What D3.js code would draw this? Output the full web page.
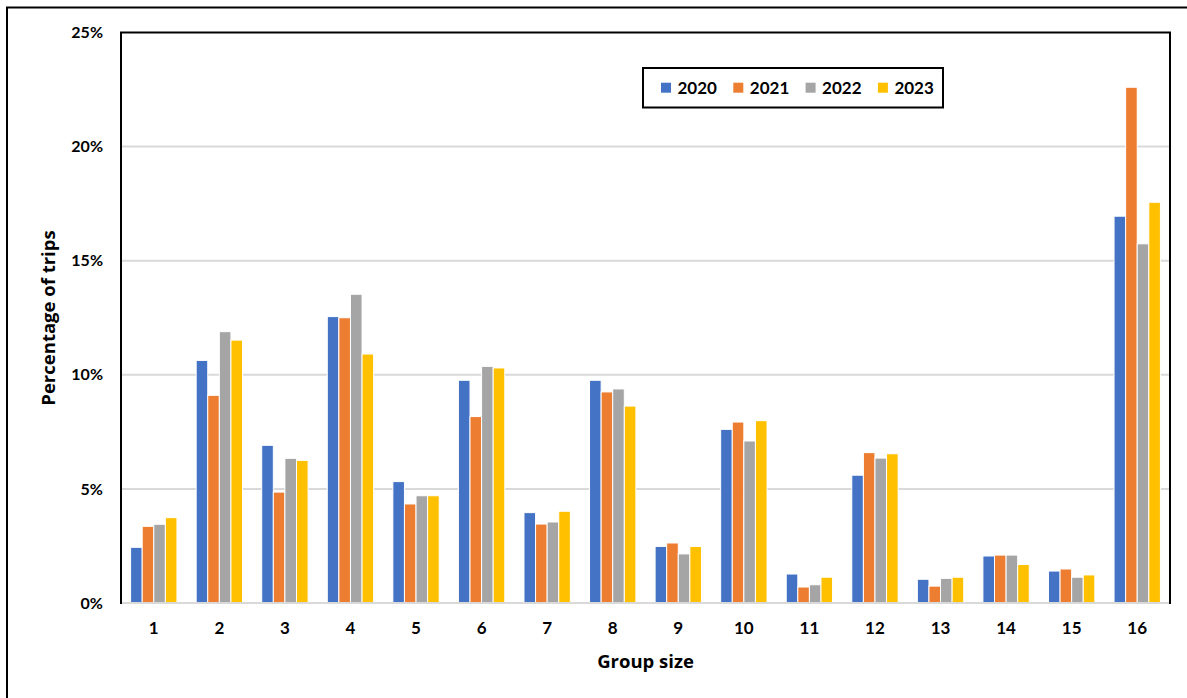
<!DOCTYPE html>
<html>
<head>
<meta charset="utf-8">
<script src="https://cdn.jsdelivr.net/npm/d3@7"></script>
<style>
  html, body { margin: 0; padding: 0; background: #fff; }
  svg { display: block; font-family: Lato, "Open Sans", sans-serif; font-weight: 700; }
</style>
</head>
<body>
<svg id="chart" width="1187" height="698"></svg>
<script>
// Group sizes on the x axis
const groupSizes = ["1","2","3","4","5","6","7","8","9","10","11","12","13","14","15","16"];
const years = ["2020","2021","2022","2023"];
const colors = ["#4472C4","#ED7D31","#A5A5A5","#FFC000"];

// Percentage of trips for each year, by group size
const pct2020 = [2.44,10.63,6.91,12.55,5.32,9.76,3.96,9.76,2.48,7.61,1.27,5.60,1.04,2.06,1.40,16.95];
const pct2021 = [3.36,9.10,4.86,12.50,4.34,8.17,3.46,9.25,2.63,7.93,0.70,6.59,0.74,2.10,1.49,22.60];
const pct2022 = [3.45,11.89,6.34,13.53,4.70,10.37,3.55,9.38,2.15,7.10,0.80,6.35,1.08,2.10,1.13,15.74];
const pct2023 = [3.74,11.52,6.25,10.91,4.70,10.30,4.02,8.63,2.48,7.99,1.13,6.54,1.13,1.69,1.23,17.56];
const seriesValues = [pct2020, pct2021, pct2022, pct2023];

const yTicks = [0,5,10,15,20,25];

const svg = d3.select("#chart");
const plot = { left: 121, right: 1170, top: 32.5, bottom: 603 };
const titleFont = "'Open Sans', Lato, sans-serif";

// outer frame
svg.append("rect")
  .attr("x", 7).attr("y", 7.5)
  .attr("width", 1200).attr("height", 700)
  .attr("fill", "none").attr("stroke", "#000").attr("stroke-width", 2);

const x0 = d3.scaleBand()
  .domain(groupSizes)
  .range([plot.left, plot.right])
  .paddingInner(0.293)
  .paddingOuter(0.1465);

const x1 = d3.scaleBand()
  .domain(years)
  .range([0, x0.bandwidth()]);

const y = d3.scaleLinear().domain([0, 25]).range([plot.bottom, plot.top]);

// plot area frame
svg.append("rect")
  .attr("x", plot.left).attr("y", plot.top)
  .attr("width", plot.right - plot.left).attr("height", plot.bottom - plot.top)
  .attr("fill", "none").attr("stroke", "#000").attr("stroke-width", 2);

// horizontal gridlines
svg.append("g")
  .selectAll("line")
  .data(yTicks.filter(t => t > 0 && t < 25))
  .join("line")
  .attr("x1", plot.left + 1).attr("x2", plot.right - 1)
  .attr("y1", d => y(d)).attr("y2", d => y(d))
  .attr("stroke", "#D9D9D9").attr("stroke-width", 2);

// bars
const groups = svg.append("g")
  .selectAll("g")
  .data(groupSizes)
  .join("g")
  .attr("transform", d => `translate(${x0(d)},0)`);

groups.selectAll("rect")
  .data((d, i) => years.map((yr, j) => ({ yr, j, v: seriesValues[j][i] })))
  .join("rect")
  .attr("x", d => x1(d.yr))
  .attr("width", x1.bandwidth())
  .attr("y", d => y(d.v))
  .attr("height", d => y(0) - y(d.v))
  .attr("fill", d => colors[d.j])
  .attr("stroke", "#fff")
  .attr("stroke-width", 1);

// x axis line
svg.append("line")
  .attr("x1", plot.left + 1).attr("x2", plot.right - 1)
  .attr("y1", plot.bottom).attr("y2", plot.bottom)
  .attr("stroke", "#D9D9D9").attr("stroke-width", 2);

// y axis labels
const yAxis = d3.axisLeft(y)
  .tickValues(yTicks)
  .tickFormat(d => d + "%")
  .tickSize(0)
  .tickPadding(18);
const gy = svg.append("g")
  .attr("transform", `translate(${plot.left},0)`)
  .call(yAxis);
gy.select(".domain").remove();
gy.selectAll("text")
  .attr("font-family", "Lato, 'Open Sans', sans-serif")
  .attr("font-weight", 700)
  .attr("font-size", 16)
  .attr("fill", "#000");

// x axis labels
const xAxis = d3.axisBottom(x0).tickSize(0).tickPadding(19);
const gx = svg.append("g")
  .attr("transform", `translate(0,${plot.bottom})`)
  .call(xAxis);
gx.select(".domain").remove();
gx.selectAll("text")
  .attr("font-family", "Lato, 'Open Sans', sans-serif")
  .attr("font-weight", 700)
  .attr("font-size", 17)
  .attr("fill", "#000");

// axis titles
svg.append("text")
  .attr("x", (plot.left + plot.right) / 2)
  .attr("y", 668)
  .attr("text-anchor", "middle")
  .attr("font-family", titleFont)
  .attr("font-size", 18.5)
  .text("Group size");

svg.append("text")
  .attr("transform", `translate(55,${318}) rotate(-90)`)
  .attr("text-anchor", "middle")
  .attr("font-family", titleFont)
  .attr("font-size", 18.5)
  .text("Percentage of trips");

// legend
const legend = svg.append("g").attr("transform", "translate(643,68)");
legend.append("rect")
  .attr("width", 300).attr("height", 39.5)
  .attr("fill", "#fff").attr("stroke", "#000").attr("stroke-width", 2);
const items = legend.selectAll("g.item")
  .data(years)
  .join("g")
  .attr("class", "item")
  .attr("transform", (d, i) => `translate(${18 + i * 72.3},0)`);
items.append("rect")
  .attr("x", 0).attr("y", 14.7)
  .attr("width", 10).attr("height", 10)
  .attr("fill", (d, i) => colors[i]);
items.append("text")
  .attr("x", 16.5).attr("y", 26)
  .attr("font-size", 17)
  .text(d => d);
</script>
</body>
</html>
